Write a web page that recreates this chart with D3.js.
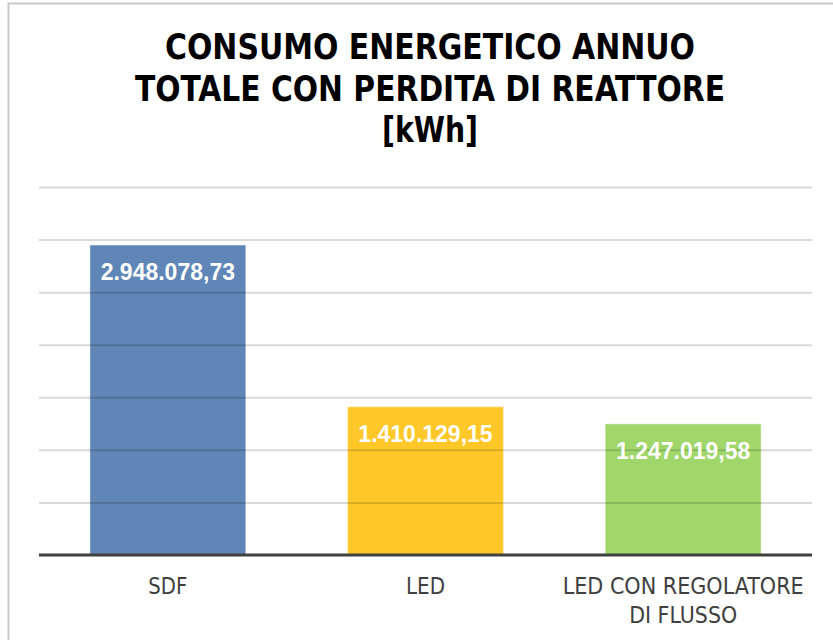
<!DOCTYPE html>
<meta charset="utf-8">
<style>
    body { margin: 0; background: #fff; }
    .grid line { stroke: #000; stroke-opacity: 0.15; stroke-width: 2px; }
    .grid .domain { display: none; }
    .xaxis .domain, .xaxis line { display: none; }
</style>
<svg width="833" height="640"></svg>
<script src="https://d3js.org/d3.v7.min.js"></script>
<script>

    var categories = ["SDF", "LED", "LED CON REGOLATORE|DI FLUSSO"];
    var values = [2948078.73, 1410129.15, 1247019.58];
    var labels = ["2.948.078,73", "1.410.129,15", "1.247.019,58"];
    var colors = ["#5f86b7", "#ffc828", "#a0d66a"];
    var titleLines = ["CONSUMO ENERGETICO ANNUO", "TOTALE CON PERDITA DI REATTORE", "[kWh]"];
    var yTicks = [0, 500000, 1000000, 1500000, 2000000, 2500000, 3000000, 3500000];

    // measured widths of text lines in the reference (font is narrower than what we have)
    var titleWidths = [530, 590, 96];
    var catWidths = {"SDF": 39, "LED": 39, "LED CON REGOLATORE": 241, "DI FLUSSO": 108};

    var svg = d3.select("svg"),
        margin = {top: 187, right: 21, bottom: 85, left: 39},
        width = +svg.attr("width") - margin.left - margin.right,
        height = +svg.attr("height") - margin.top - margin.bottom;

    // outer frame
    svg.append("rect")
        .attr("x", 8.5).attr("y", 3.5)
        .attr("width", 900).attr("height", 700)
        .attr("fill", "none")
        .attr("stroke", "#c8c8c8")
        .attr("stroke-width", 2);

    svg.selectAll("text.title")
        .data(titleLines)
        .enter().append("text")
        .attr("class", "title")
        .attr("x", 430)
        .attr("y", function(d, i) { return 59 + i * 41.5; })
        .attr("text-anchor", "middle")
        .attr("textLength", function(d, i) { return titleWidths[i]; })
        .attr("lengthAdjust", "spacingAndGlyphs")
        .style("font-family", "'DejaVu Sans Condensed', 'DejaVu Sans', sans-serif")
        .style("font-stretch", "condensed")
        .style("font-weight", "bold")
        .style("font-size", "36px")
        .attr("fill", "#000")
        .text(function(d) { return d; });

    var g = svg.append("g").attr("transform", "translate(" + margin.left + "," + margin.top + ")");

    var x = d3.scaleBand()
        .domain(categories)
        .range([0, width])
        .paddingInner(0.395)
        .paddingOuter(0.1975);

    var y = d3.scaleLinear()
        .domain([0, 3500000])
        .range([height, 0]);

    var data = categories.map(function(c, i) {
        return {cat: c, value: values[i], label: labels[i], color: colors[i]};
    });

    g.selectAll("rect.bar")
        .data(data)
        .enter().append("rect")
        .attr("class", "bar")
        .attr("x", function(d) { return x(d.cat); })
        .attr("y", function(d) { return y(d.value); })
        .attr("width", x.bandwidth())
        .attr("height", function(d) { return height - y(d.value); })
        .attr("fill", function(d) { return d.color; })
        .attr("stroke", "#fff")
        .attr("stroke-opacity", 0.3)
        .attr("stroke-width", 1.5);

    // gridlines drawn over the bars, semi-transparent
    g.append("g")
        .attr("class", "grid")
        .call(d3.axisLeft(y).tickValues(yTicks.slice(1)).tickSize(-width).tickFormat(""));

    g.append("line")
        .attr("x1", 0).attr("x2", width)
        .attr("y1", height).attr("y2", height)
        .attr("stroke", "#404040")
        .attr("stroke-width", 3);

    g.selectAll("text.val")
        .data(data)
        .enter().append("text")
        .attr("class", "val")
        .attr("x", function(d) { return x(d.cat) + x.bandwidth() / 2; })
        .attr("y", function(d) { return y(d.value) + 35; })
        .attr("text-anchor", "middle")
        .attr("fill", "#fff")
        .style("font-family", "'Liberation Sans', Arial, sans-serif")
        .style("font-weight", "bold")
        .style("font-size", "23px")
        .text(function(d) { return d.label; });

    var xa = g.append("g")
        .attr("class", "xaxis")
        .attr("transform", "translate(0," + height + ")")
        .call(d3.axisBottom(x).tickSize(0).tickFormat(""));

    xa.selectAll(".tick")
        .selectAll("text.cat")
        .data(function(d) { return d.split("|"); })
        .enter().append("text")
        .attr("class", "cat")
        .attr("fill", "#404040")
        .attr("text-anchor", "middle")
        .attr("x", 0)
        .attr("y", function(d, i) { return 39 + i * 29; })
        .attr("textLength", function(d) { return catWidths[d]; })
        .attr("lengthAdjust", "spacingAndGlyphs")
        .style("font-family", "'DejaVu Sans Condensed', 'DejaVu Sans', sans-serif")
        .style("font-stretch", "condensed")
        .style("font-size", "23px")
        .text(function(d) { return d; });

</script>
